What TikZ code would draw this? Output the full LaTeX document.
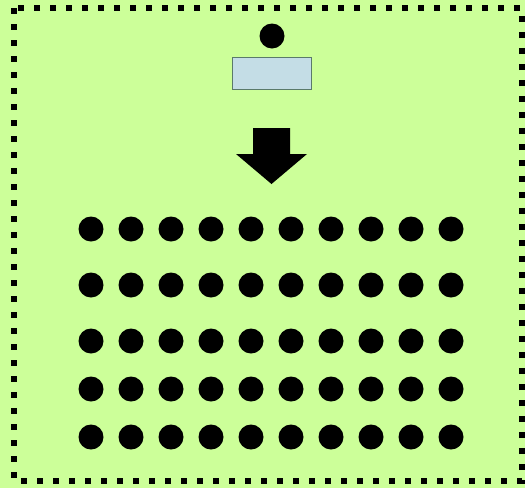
\documentclass[tikz,border=0pt]{standalone}
\definecolor{bggreen}{HTML}{CCFF99}
\definecolor{boxblue}{HTML}{C4DDE6}
\definecolor{boxline}{HTML}{5A7A6A}
\begin{document}
\begin{tikzpicture}[x=1pt,y=-1pt,
  dotnode/.style={circle,fill=black,minimum size=25pt,inner sep=0pt},
  frame/.style={draw=black,line width=6pt,dash pattern=on 6pt off 10pt}]
\fill[bggreen] (0,0) rectangle (525,488);
\useasboundingbox (0,0) rectangle (525,488);
\draw[frame] (14,8) rectangle (522,481);
\node[circle,fill=black,minimum size=25pt,inner sep=0pt] (head) at (272,36) {};
\node[draw=boxline,fill=boxblue,line width=0.8pt,minimum width=79pt,minimum height=32pt,inner sep=0pt] (desk) at (271.5,73) {};
\fill[black] (253,128) -- (290,128) -- (290,154) -- (307,154) -- (271.5,184) -- (236,154) -- (253,154) -- cycle;
\foreach \r/\y in {1/229,2/285,3/341,4/389,5/437}{
  \foreach \c in {0,...,9}{
    \node[dotnode] (d\r-\c) at ({91+40*\c},\y) {};
  }
}
\end{tikzpicture}
\end{document}
